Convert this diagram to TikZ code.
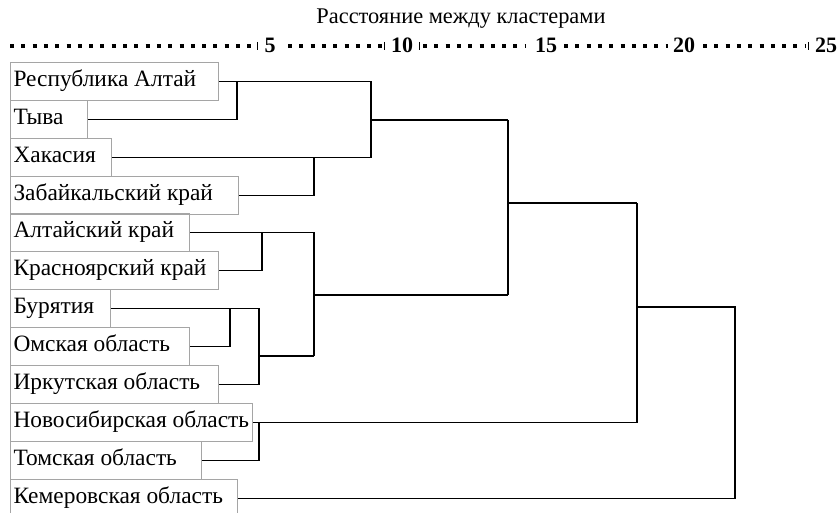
\documentclass[tikz,border=0pt]{standalone}
\usepackage{fontspec}
\setmainfont{Liberation Serif}
\definecolor{boxgray}{RGB}{165,165,165}
\newcommand{\lbltext}[2]{\makebox[#1][l]{\strut #2}}
\begin{document}
\begin{tikzpicture}[x=1pt,y=-1pt,
  lbl/.style={draw=boxgray,line width=1pt,anchor=north west,minimum height=38pt,inner xsep=3pt,inner ysep=0pt,font=\fontsize{23.4}{26}\selectfont},
  link/.style={line width=1.7pt,black},
  sq/.style={line width=4pt,dash pattern=on 4pt off 7.3pt},
  tick/.style={line width=0.8pt},
  num/.style={font=\fontsize{22}{24}\selectfont\bfseries,inner sep=0pt}]
\useasboundingbox (0,0) rectangle (840,513);
% title
\node[font=\fontsize{22.4}{24}\selectfont,inner sep=0pt] (title) at (461,19) {Расстояние между кластерами};
% axis
\draw[sq] (10,46) -- (255,46);
\draw[tick] (257,42) -- (257,50);
\node[num] (n5) at (270,45) {5};
\draw[sq] (288,46) -- (382,46);
\draw[tick] (384,42) -- (384,50);
\node[num] (n10) at (402,45) {10};
\draw[tick] (419,42) -- (419,50);
\draw[sq] (423,46) -- (526,46);
\node[num] (n15) at (546,45) {15};
\draw[sq] (564,46) -- (668,46);
\node[num] (n20) at (684,45) {20};
\draw[sq] (703,46) -- (806,46);
\draw[tick] (808,42) -- (808,50);
\node[num] (n25) at (826,45) {25};
% labels
\node[lbl] (ra)  at (10,62)  {\lbltext{202pt}{Республика Алтай}};
\node[lbl] (tv)  at (10,100) {\lbltext{71pt}{Тыва}};
\node[lbl] (hk)  at (10,138) {\lbltext{95pt}{Хакасия}};
\node[lbl] (zb)  at (10,176) {\lbltext{222pt}{Забайкальский край}};
\node[lbl] (ak)  at (10,213) {\lbltext{173pt}{Алтайский край}};
\node[lbl] (kr)  at (10,251) {\lbltext{202pt}{Красноярский край}};
\node[lbl] (br)  at (10,289) {\lbltext{94pt}{Бурятия}};
\node[lbl] (om)  at (10,327) {\lbltext{173pt}{Омская область}};
\node[lbl] (ir)  at (10,365) {\lbltext{202pt}{Иркутская область}};
\node[lbl] (ns)  at (10,403) {\lbltext{236pt}{Новосибирская область}};
\node[lbl] (tm)  at (10,441) {\lbltext{185pt}{Томская область}};
\node[lbl] (km)  at (10,479) {\lbltext{221pt}{Кемеровская область}};
% join coordinates
\coordinate (a1) at (237,0);
\coordinate (a2) at (371,0);
\coordinate (a3) at (314,0);
\coordinate (b1) at (262,0);
\coordinate (c1) at (230,0);
\coordinate (c2) at (259,0);
\coordinate (e1) at (259,0);
\coordinate (f1) at (637,0);
\coordinate (g1) at (735,0);
% cluster 1
\draw[link] (ra.east) -- (ra.east -| a2);
\draw[link] (ra.east -| a1) -- (tv.east -| a1) -- (tv.east);
\draw[link] (hk.east) -- (hk.east -| a2) -- (ra.east -| a2);
\draw[link] (zb.east) -- (zb.east -| a3) -- (hk.east -| a3);
\coordinate (m1) at (371,120);
\coordinate (m1e) at (508,120);
\draw[link] (m1) -- (m1e);
% cluster 2
\coordinate (m2) at (314,356);
\coordinate (m2h) at (314,295);
\coordinate (m2e) at (508,295);
\draw[link] (ak.east) -- (ak.east -| a3) -- (m2);
\draw[link] (ak.east -| b1) -- (kr.east -| b1) -- (kr.east);
\draw[link] (br.east) -- (br.east -| c2) -- (ir.east -| c2) -- (ir.east);
\draw[link] (br.east -| c1) -- (om.east -| c1) -- (om.east);
\coordinate (m3) at (259,356);
\draw[link] (m3) -- (m2);
\draw[link] (m2h) -- (m2e);
% merge 1+2
\coordinate (m4) at (508,203);
\coordinate (m4e) at (637,203);
\draw[link] (m1e) -- (m2e);
\draw[link] (m4) -- (m4e);
% cluster 3
\draw[link] (ns.east) -- (ns.east -| f1) -- (m4e);
\draw[link] (ns.east -| e1) -- (tm.east -| e1) -- (tm.east);
% final
\coordinate (m5) at (637,307);
\coordinate (m5e) at (735,307);
\draw[link] (m5) -- (m5e) -- (km.east -| g1) -- (km.east);
\end{tikzpicture}
\end{document}
